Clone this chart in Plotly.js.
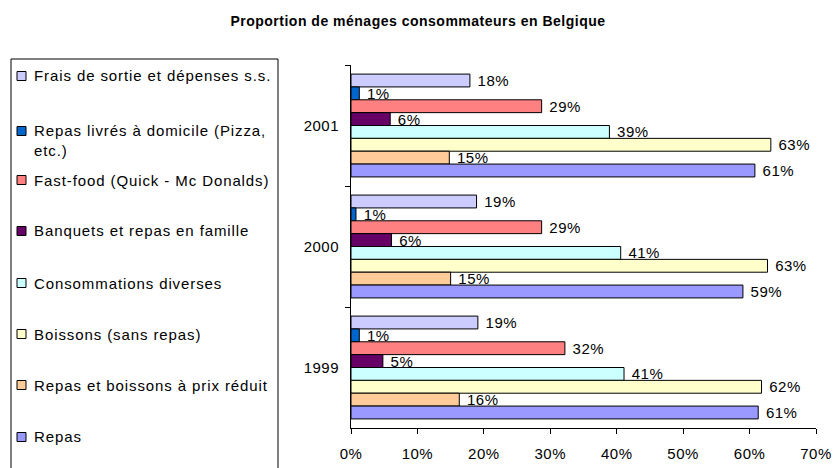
<!DOCTYPE html>
<html>
<head>
<meta charset="utf-8">
<script src="https://cdn.plot.ly/plotly-3.0.1.min.js"></script>
<style>
html, body { margin: 0; padding: 0; background: #fff; }
#chart { width: 836px; height: 468px; }
text.gtitle { letter-spacing: 0.5px; }
text.annotation-text { letter-spacing: 0.9px; }
.xtick text, .ytick text, text.bartext { letter-spacing: 0.5px; }
</style>
</head>
<body>
<div id="chart"></div>
<script>
// ---- data ----
const years = ['1999', '2000', '2001'];
const seriesNames = [
  'Frais de sortie et dépenses s.s.',
  'Repas livrés à domicile (Pizza, etc.)',
  'Fast-food (Quick - Mc Donalds)',
  'Banquets et repas en famille',
  'Consommations diverses',
  'Boissons (sans repas)',
  'Repas et boissons à prix réduit',
  'Repas'
];
const legendLabels = [
  'Frais de sortie et dépenses s.s.',
  'Repas livrés à domicile (Pizza,<br>etc.)',
  'Fast-food (Quick - Mc Donalds)',
  'Banquets et repas en famille',
  'Consommations diverses',
  'Boissons (sans repas)',
  'Repas et boissons à prix réduit',
  'Repas'
];
const seriesColors = ['#CCCCFF', '#0066CC', '#FF8080', '#660066', '#CCFFFF', '#FFFFCC', '#FFCC99', '#9999FF'];
// values for 1999, 2000, 2001 (%)
const fraisSortie   = [19.1, 18.9, 17.9];
const repasLivres   = [1.25, 0.75, 1.25];
const fastFood      = [32.2, 28.7, 28.7];
const banquets      = [4.8, 6.1, 5.9];
const consommations = [41.1, 40.6, 38.9];
const boissons      = [61.8, 62.7, 63.2];
const prixReduit    = [16.3, 15.0, 14.8];
const repas         = [61.3, 59.0, 60.8];
const seriesValues = [fraisSortie, repasLivres, fastFood, banquets, consommations, boissons, prixReduit, repas];
const xTickVals = [0, 10, 20, 30, 40, 50, 60, 70];

// ---- layout geometry ----
const W = 836, H = 468;
const M = {l: 351, r: 20, t: 65, b: 40};
const PW = W - M.l - M.r, PH = H - M.t - M.b;
const px2x = px => (px - M.l) / PW;
const py2y = py => (H - M.b - py) / PH;
const FONT = '"Liberation Sans", Arial, sans-serif';

const traces = seriesNames.map((name, i) => ({
  type: 'bar',
  orientation: 'h',
  name: name,
  y: years,
  x: seriesValues[i],
  marker: {color: seriesColors[i], line: {color: '#000', width: 1}},
  text: seriesValues[i].map(v => ' ' + Math.round(v) + '%'),
  texttemplate: '%{text}',
  textposition: 'outside',
  constraintext: 'none',
  cliponaxis: false,
  textfont: {family: FONT, size: 15, color: '#000'},
  hoverinfo: 'skip',
  showlegend: false
}));

// manual legend (Excel style)
const legendRowsY = [76, 140, 180, 231, 283, 334, 385, 437];
const shapes = [{
  type: 'rect', xref: 'paper', yref: 'paper',
  x0: px2x(11), x1: px2x(278), y0: py2y(476), y1: py2y(59),
  line: {color: '#000', width: 1}, fillcolor: 'rgba(0,0,0,0)'
}];
const annotations = [];
seriesNames.forEach((n, i) => {
  const cy = legendRowsY[i] - (i === 1 ? 9 : 0);
  shapes.push({
    type: 'rect', xref: 'paper', yref: 'paper',
    x0: px2x(17), x1: px2x(26), y0: py2y(cy + 4.5), y1: py2y(cy - 4.5),
    fillcolor: seriesColors[i], line: {color: '#000', width: 1}
  });
  annotations.push({
    xref: 'paper', yref: 'paper', x: px2x(32), y: py2y(legendRowsY[i]),
    xanchor: 'left', yanchor: 'middle', align: 'left', showarrow: false,
    text: legendLabels[i], font: {family: FONT, size: 15, color: '#000'}
  });
});

const layout = {
  width: W, height: H,
  margin: M,
  paper_bgcolor: '#fff', plot_bgcolor: '#fff',
  font: {family: FONT, size: 15, color: '#000'},
  title: {
    text: '<b>Proportion de ménages consommateurs en Belgique</b>',
    font: {family: FONT, size: 14, color: '#000'},
    x: 0.5, xref: 'container', xanchor: 'center',
    y: 1 - 21 / H, yref: 'container', yanchor: 'middle'
  },
  barmode: 'group',
  bargap: 0.15,
  bargroupgap: 0,
  showlegend: false,
  xaxis: {
    range: [0, 70], tickvals: xTickVals, ticktext: xTickVals.map(v => v + '%'),
    showgrid: false, zeroline: false, showline: true, linecolor: '#000', linewidth: 1,
    ticks: 'outside', ticklen: 5, tickcolor: '#000', ticklabelstandoff: 7,
    tickfont: {family: FONT, size: 15, color: '#000'}, fixedrange: true
  },
  yaxis: {
    type: 'category', categoryorder: 'array', categoryarray: years.slice().reverse(),
    autorange: 'reversed',
    showgrid: false, zeroline: false, showline: true, linecolor: '#000', linewidth: 1,
    ticks: 'outside', ticklen: 5, tickcolor: '#000', tickson: 'boundaries',
    ticklabelstandoff: 8,
    tickfont: {family: FONT, size: 15, color: '#000'}, fixedrange: true
  },
  shapes: shapes,
  annotations: annotations
};

Plotly.newPlot('chart', traces, layout, {staticPlot: true, displayModeBar: false});
</script>
</body>
</html>
